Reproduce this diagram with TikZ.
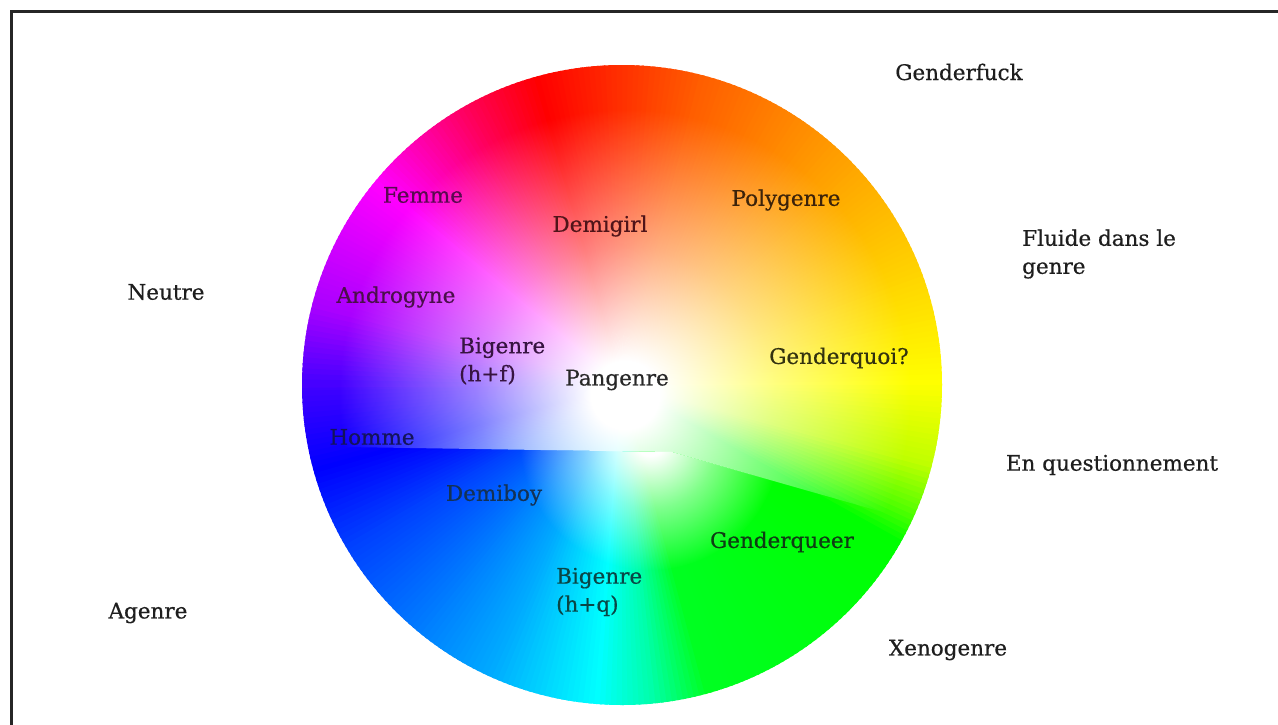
\documentclass[tikz,border=0pt]{standalone}
\usepackage{fontspec}
\setmainfont[FakeBold=0.5]{DejaVu Serif}
\usetikzlibrary{fadings}
\pgfdeclareradialshading{wfadeshade}{\pgfpoint{0bp}{0bp}}{color(0bp)=(white); color(3bp)=(white); color(13bp)=(gray); color(25bp)=(black); color(50bp)=(black)}
\pgfdeclarefading{wfade}{\pgfuseshading{wfadeshade}}
\definecolor{outtxt}{HTML}{1E1E1E}
\tikzset{
  lab/.style={font=\fontsize{21.5}{28}\selectfont, inner sep=0pt, text=outtxt},
  inlab/.style={lab},
  frameline/.style={line width=3pt, draw=black!85}
}
\begin{document}
\begin{tikzpicture}[x=1pt,y=-1pt]
\useasboundingbox (0,0) rectangle (1278,724);
\clip (0,0) rectangle (1278,724);
\fill[white] (0,0) rectangle (1278,724);
\draw[frameline] (11,740) -- (11,11) -- (1290,11);
\coordinate (C) at (622,385);
% hue wheel
\begin{scope}
\clip (C) circle (320);
\foreach \ta/\ha/\tb/\hb in {-180/-105/-165/-120, -165/-120/-150/-135, -150/-135/-115/-160, -115/-160/-95/-180, -95/-180/-85/-200, -85/-200/-75/-232, -75/-232/-30/-240, -30/-240/-24/-260, -24/-260/-15/-285, -15/-285/0/-300, 0/-300/20/-310, 20/-310/45/-322, 45/-322/75/-338, 75/-338/105/-360, 105/-360/118/-380, 118/-380/140/-420, 140/-420/165/-440, 165/-440/180/-465}{
  \pgfmathtruncatemacro{\nn}{\tb-\ta-1}
  \foreach \i in {0,...,\nn}{
    \pgfmathsetmacro{\hh}{mod(\ha+\i*(\hb-\ha)/(\tb-\ta)+720,360)}
    \pgfmathsetmacro{\aa}{-(\ta+\i)}
    \definecolor{hc}{Hsb}{\hh,1,1}
    \fill[hc] (C) -- ++(\aa:330) arc[start angle=\aa, end angle=\aa-1.5, radius=330] -- cycle;
  }
}
\end{scope}
% upper whitening
\begin{scope}
\clip (C) circle (320);
\clip (280,446) -- (672,452) -- (935,527) -- (960,527) -- (960,40) -- (280,40) -- cycle;
\fill[white, path fading=wfade] (625,395) circle (285);
\end{scope}
% lower whitening
\begin{scope}
\clip (C) circle (320);
\clip (280,446) -- (672,452) -- (935,527) -- (960,527) -- (960,720) -- (280,720) -- cycle;
\fill[white, path fading=wfade] (650,440) circle (130);
\end{scope}
% outside labels
\node[lab] (gf) at (959,72) {Genderfuck};
\node[lab, anchor=west, align=left] (fl) at (1022,254) {Fluide dans le\\genre};
\node[lab] (ne) at (166,292) {Neutre};
\node[lab] (eq) at (1112,465) {En questionnement};
\node[lab] (ag) at (148,613) {Agenre};
\node[lab] (xe) at (948,650) {Xenogenre};
% inside labels
\node[inlab, text={rgb,255:red,90;green,10;blue,80}] (fe) at (423,195) {Femme};
\node[inlab, text={rgb,255:red,80;green,20;blue,25}] (dg) at (600,226) {Demigirl};
\node[inlab, text={rgb,255:red,60;green,35;blue,10}] (po) at (786,200) {Polygenre};
\node[inlab, text={rgb,255:red,75;green,15;blue,75}] (an) at (396,297) {Androgyne};
\node[inlab, anchor=west, align=left, text={rgb,255:red,55;green,20;blue,65}] (bf) at (459,361) {Bigenre\\(h+f)};
\node[inlab, text={rgb,255:red,40;green,40;blue,40}] (pa) at (617,380) {Pangenre};
\node[inlab, text={rgb,255:red,50;green,50;blue,15}] (gq) at (839,358) {Genderquoi?};
\node[inlab, text={rgb,255:red,20;green,20;blue,90}] (ho) at (372,437) {Homme};
\node[inlab, text={rgb,255:red,20;green,50;blue,85}] (db) at (494,495) {Demiboy};
\node[inlab, text={rgb,255:red,15;green,60;blue,20}] (gr) at (782,542) {Genderqueer};
\node[inlab, anchor=west, align=left, text={rgb,255:red,10;green,70;blue,70}] (bq) at (556,592) {Bigenre\\(h+q)};
\end{tikzpicture}
\end{document}
